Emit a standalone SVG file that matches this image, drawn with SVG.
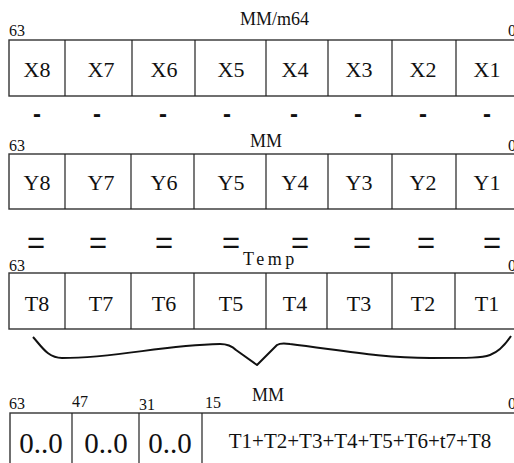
<svg xmlns="http://www.w3.org/2000/svg" width="514" height="463" viewBox="0 0 514 463">
  <style>
    .box { fill: #fff; stroke: #333; stroke-width: 1.4; }
    .div { stroke: #222; stroke-width: 1.2; }
    .cell { font-family: "Liberation Serif", "Times New Roman", serif; font-size: 22px; fill: #111; text-anchor: middle; }
    .bit { font-family: "Liberation Serif", "Times New Roman", serif; font-size: 16px; fill: #111; }
    .title { font-family: "Liberation Serif", "Times New Roman", serif; font-size: 18px; fill: #111; }
    .op { font-family: "Liberation Sans", Arial, sans-serif; fill: #111; text-anchor: middle; }
    .minus { font-size: 24px; font-weight: bold; }
    .eq { font-size: 31px; }
    .big { font-family: "Liberation Serif", "Times New Roman", serif; font-size: 29px; fill: #111; text-anchor: middle; }
    .sum { font-family: "Liberation Serif", "Times New Roman", serif; font-size: 21px; fill: #111; text-anchor: middle; }
    .brace { fill: none; stroke: #111; stroke-width: 2; stroke-linejoin: round; }
  </style>

  <!-- Register X : MM/m64 -->
  <g id="regX">
    <text class="title" x="240" y="25">MM/m64</text>
    <text class="bit" x="9" y="36">63</text>
    <text class="bit" x="508" y="36">0</text>
    <rect class="box" x="9" y="40" width="530" height="56"/>
    <path class="div" d="M65 40V96M132 40V96M195 40V96M266 40V96M328 40V96M392 40V96M456 40V96"/>
    <text class="cell" x="37" y="77">X8</text>
    <text class="cell" x="101" y="77">X7</text>
    <text class="cell" x="164" y="77">X6</text>
    <text class="cell" x="231" y="77">X5</text>
    <text class="cell" x="295" y="77">X4</text>
    <text class="cell" x="359" y="77">X3</text>
    <text class="cell" x="423" y="77">X2</text>
    <text class="cell" x="487" y="77">X1</text>
  </g>

  <!-- Subtraction operators -->
  <g id="minusRow" class="op minus">
    <text x="37" y="122">-</text>
    <text x="97" y="122">-</text>
    <text x="163" y="122">-</text>
    <text x="227" y="122">-</text>
    <text x="294" y="122">-</text>
    <text x="358" y="122">-</text>
    <text x="423" y="122">-</text>
    <text x="487" y="122">-</text>
  </g>

  <!-- Register Y : MM -->
  <g id="regY">
    <text class="title" x="250" y="147">MM</text>
    <text class="bit" x="9" y="151">63</text>
    <text class="bit" x="508" y="151">0</text>
    <rect class="box" x="9" y="154" width="530" height="55"/>
    <path class="div" d="M65 154V209M131 154V209M194 154V209M266 154V209M328 154V209M392 154V209M456 154V209"/>
    <text class="cell" x="37" y="190">Y8</text>
    <text class="cell" x="101" y="190">Y7</text>
    <text class="cell" x="164" y="190">Y6</text>
    <text class="cell" x="231" y="190">Y5</text>
    <text class="cell" x="295" y="190">Y4</text>
    <text class="cell" x="359" y="190">Y3</text>
    <text class="cell" x="423" y="190">Y2</text>
    <text class="cell" x="487" y="190">Y1</text>
  </g>

  <!-- Equality operators -->
  <g id="equalsRow" class="op eq">
    <text x="36" y="253">=</text>
    <text x="98" y="253">=</text>
    <text x="164" y="253">=</text>
    <text x="231" y="253">=</text>
    <text x="300" y="253">=</text>
    <text x="362" y="253">=</text>
    <text x="426" y="253">=</text>
    <text x="492" y="253">=</text>
  </g>

  <!-- Register Temp -->
  <g id="regT">
    <text class="title" x="243" y="265" font-size="17" letter-spacing="3.5">Temp</text>
    <text class="bit" x="9" y="271">63</text>
    <text class="bit" x="508" y="271">0</text>
    <rect class="box" x="9" y="273" width="530" height="56"/>
    <path class="div" d="M65 273V329M131 273V329M194 273V329M266 273V329M327 273V329M392 273V329M455 273V329"/>
    <text class="cell" x="37" y="311">T8</text>
    <text class="cell" x="101" y="311">T7</text>
    <text class="cell" x="164" y="311">T6</text>
    <text class="cell" x="231" y="311">T5</text>
    <text class="cell" x="295" y="311">T4</text>
    <text class="cell" x="359" y="311">T3</text>
    <text class="cell" x="423" y="311">T2</text>
    <text class="cell" x="487" y="311">T1</text>
  </g>

  <!-- Brace gathering all Temp lanes -->
  <g id="connectors">
    <path class="brace" d="M33 337C42 347 48 358 62 358C120 358 160 345 220 344C228 344 232 346 236 350L257 365L277 345C280 343 284 343 290 344C340 350 380 358 430 358C470 358 482 358 490 355C498 352 505 345 511 336"/>
  </g>

  <!-- Result register : MM -->
  <g id="regResult">
    <text class="title" x="252" y="401">MM</text>
    <text class="bit" x="9" y="409">63</text>
    <text class="bit" x="72" y="407">47</text>
    <text class="bit" x="139" y="410">31</text>
    <text class="bit" x="205" y="408">15</text>
    <text class="bit" x="508" y="409">0</text>
    <rect class="box" x="10" y="413" width="530" height="70"/>
    <path class="div" d="M72 413V470M139 413V470M202 413V470"/>
    <text class="big" x="41" y="453">0..0</text>
    <text class="big" x="106" y="453">0..0</text>
    <text class="big" x="170" y="453">0..0</text>
    <text class="sum" x="360" y="448">T1+T2+T3+T4+T5+T6+t7+T8</text>
  </g>
</svg>
